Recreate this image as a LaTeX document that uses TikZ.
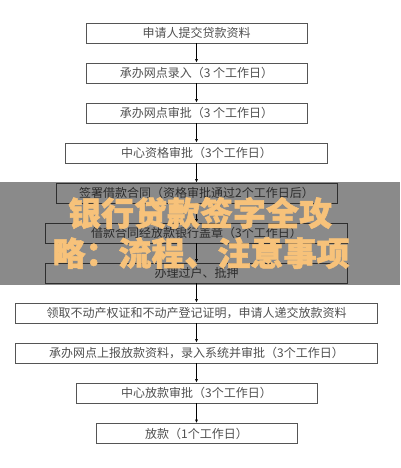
\documentclass[tikz,border=0pt]{standalone}
\usepackage{fontspec}
\setmainfont{Noto Sans CJK SC}
\newfontfamily\cjktitle{Noto Sans CJK SC}[BoldFeatures={FakeBold=1.6}]
\usetikzlibrary{arrows.meta}
\definecolor{boxline}{RGB}{85,85,85}
\definecolor{boxtext}{RGB}{80,80,80}
\definecolor{titlecol}{RGB}{247,194,122}
\tikzset{
  stepbox/.style={draw=boxline, line width=0.9pt, minimum height=20pt, inner sep=0pt, text=boxtext, font=\fontsize{12}{14}\selectfont},
  flowarrow/.style={-{Latex[length=3.5pt,width=3pt]}, line width=0.6pt, black},
  titletext/.style={text=titlecol, font=\cjktitle\bfseries\fontsize{33}{36}\selectfont, inner sep=0pt}
}
\begin{document}
\begin{tikzpicture}[x=1pt,y=-1pt]
\useasboundingbox (0,0) rectangle (400,468);
\fill[white] (0,0) rectangle (400,468);
\node[stepbox, minimum width=221pt] (b1) at (196.5,33) {申请人提交贷款资料};
\node[stepbox, minimum width=221pt] (b2) at (196.5,73) {承办网点录入（3 个工作日）};
\node[stepbox, minimum width=221pt] (b3) at (196.5,113) {承办网点审批（3 个工作日）};
\node[stepbox, minimum width=262pt] (b4) at (196.5,153) {中心资格审批（3个工作日）};
\node[stepbox, minimum width=281pt] (b5) at (196.5,193) {签署借款合同（资格审批通过2个工作日后）};
\node[stepbox, minimum width=302pt] (b6) at (196.5,233) {借款合同经放款银行盖章（3个工作日）};
\node[stepbox, minimum width=302pt] (b7) at (196.5,273) {办理过户、抵押};
\node[stepbox, minimum width=362pt] (b8) at (196.5,313) {领取不动产权证和不动产登记证明，申请人递交放款资料};
\node[stepbox, minimum width=362pt] (b9) at (196.5,353) {承办网点上报放款资料，录入系统并审批（3个工作日）};
\node[stepbox, minimum width=241pt] (b10) at (196.5,393) {中心放款审批（3个工作日）};
\node[stepbox, minimum width=201pt] (b11) at (196.5,433.5) {放款（1个工作日）};
\foreach \a/\b in {b1/b2,b2/b3,b3/b4,b4/b5,b5/b6,b6/b7,b7/b8,b8/b9,b9/b10,b10/b11}
  \draw[flowarrow] (\a.south) -- (\b.north);
\fill[black, opacity=0.46] (0,182) rectangle (400,285);
\node[titletext] (t1) at (200,213) {银行贷款签字全攻};
\node[titletext] (t2) at (201,253) {略：流程、注意事项};
\end{tikzpicture}
\end{document}
